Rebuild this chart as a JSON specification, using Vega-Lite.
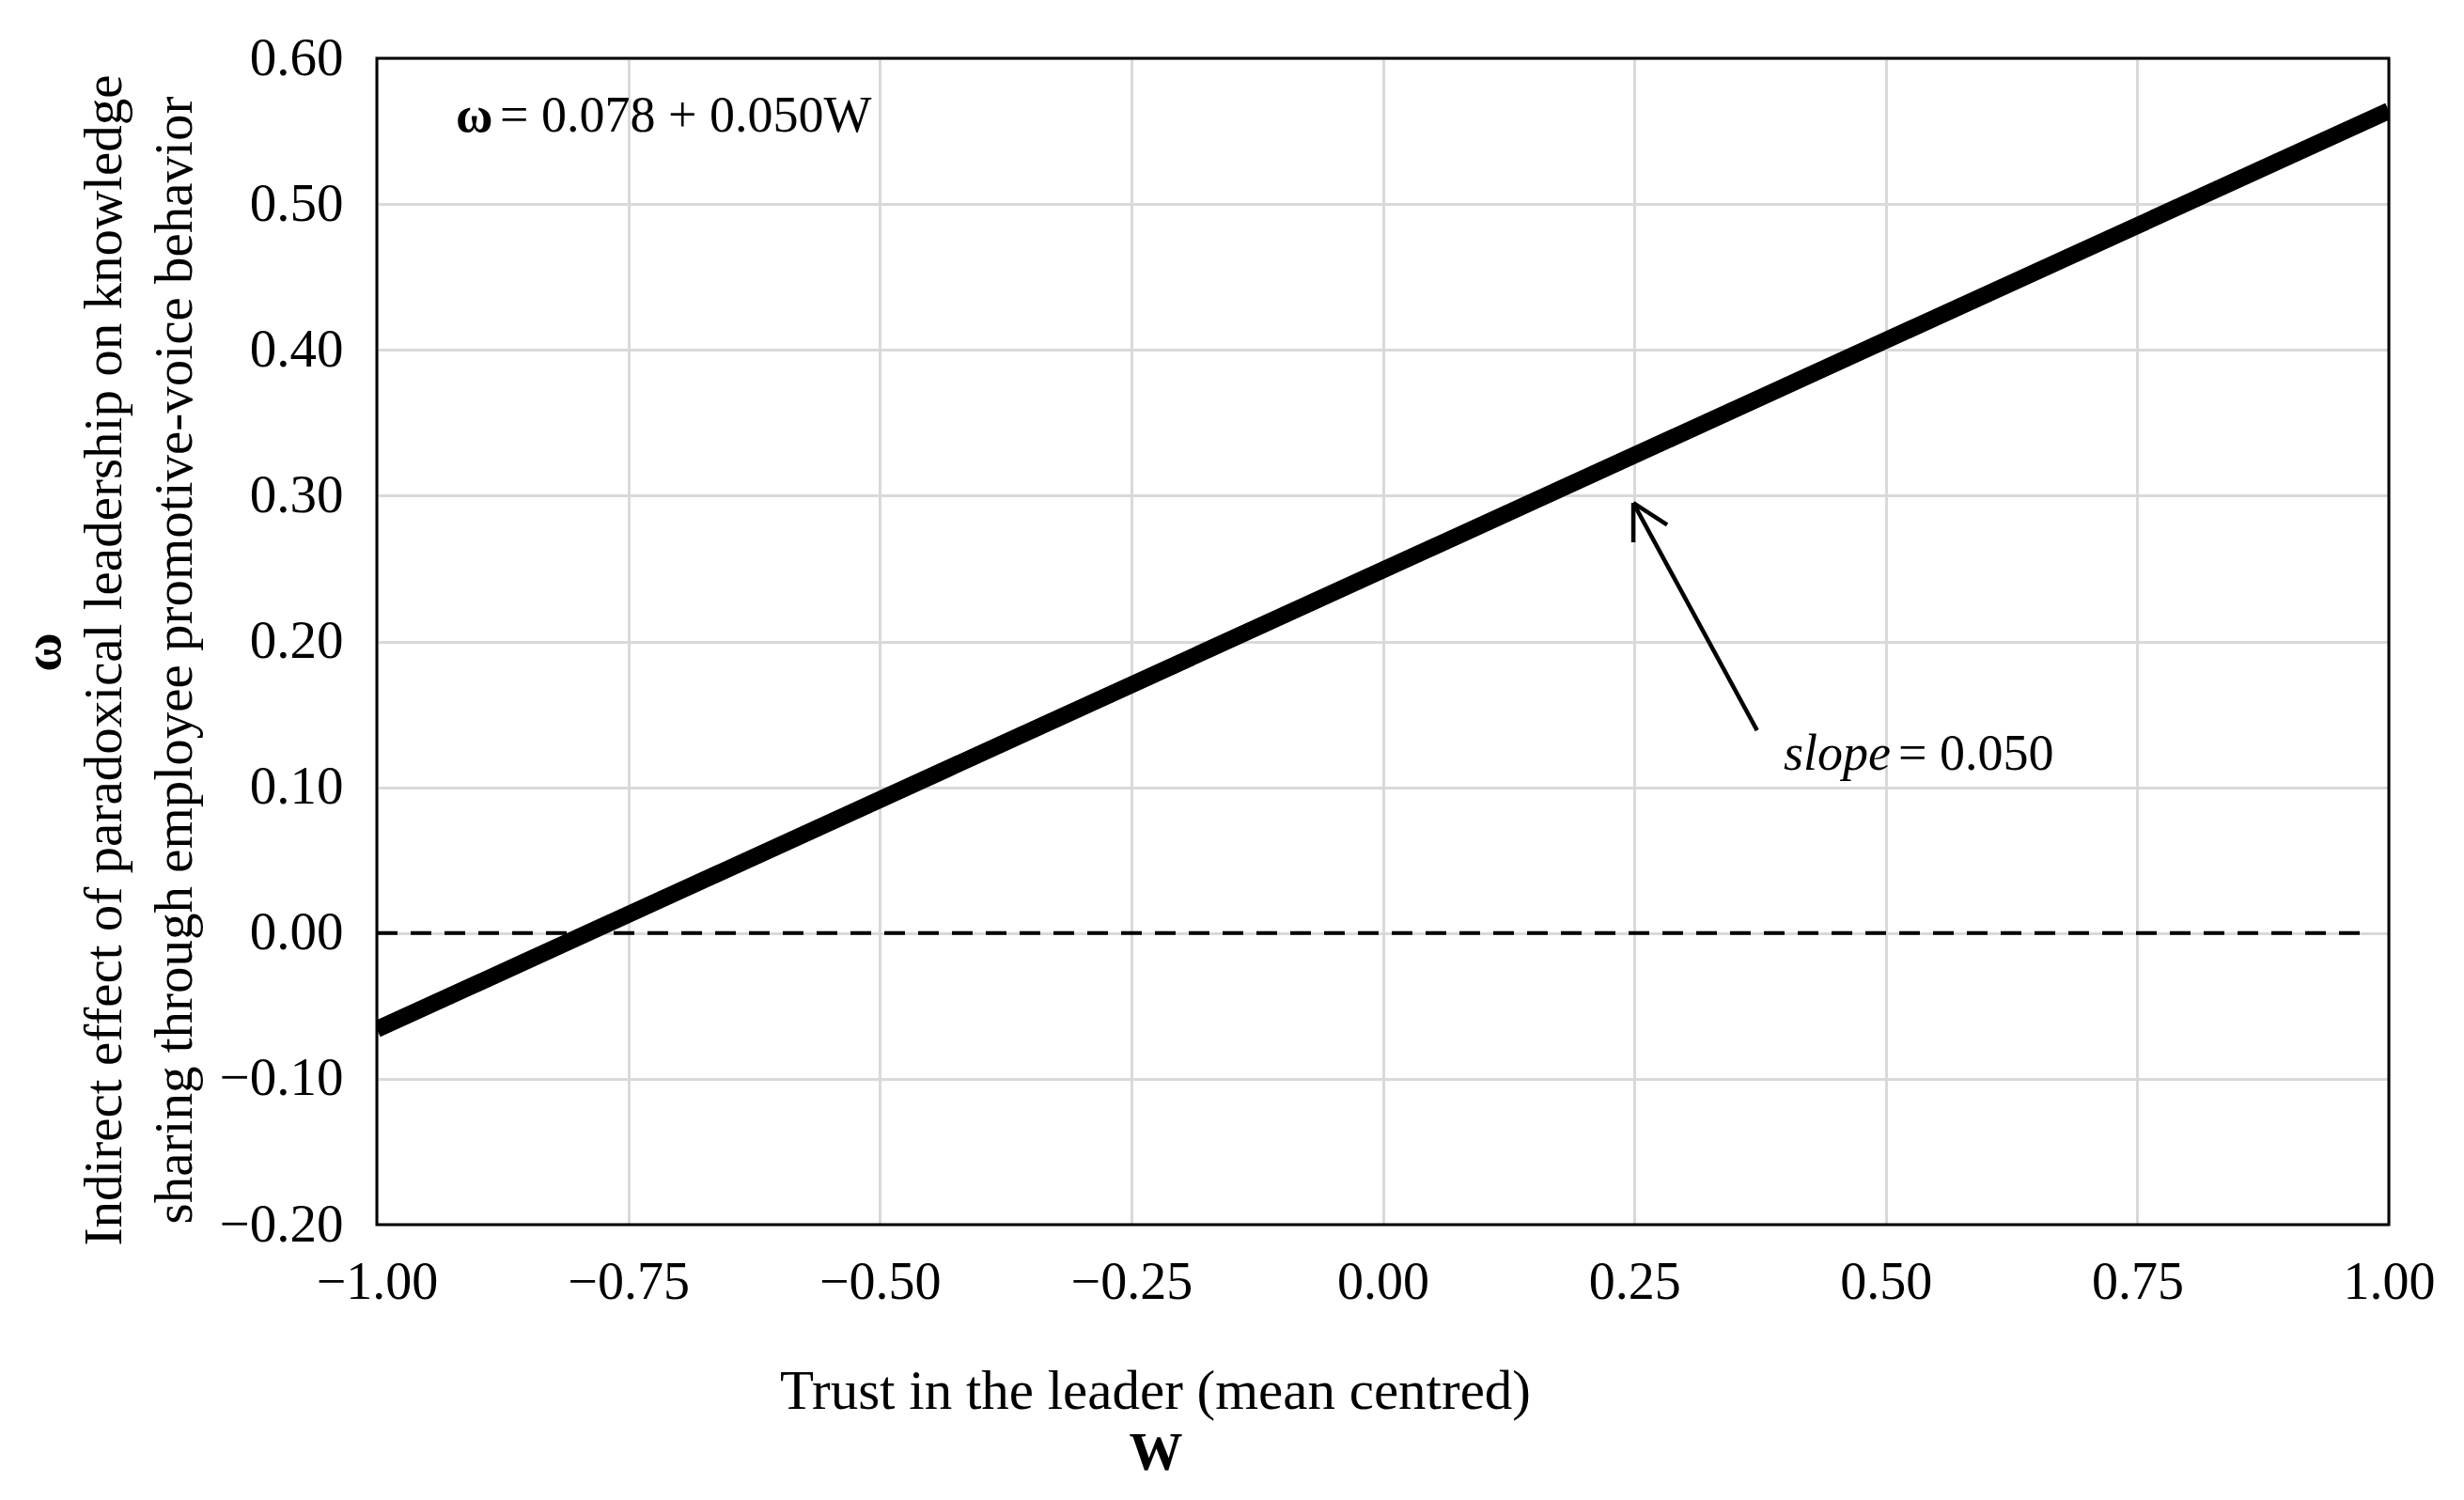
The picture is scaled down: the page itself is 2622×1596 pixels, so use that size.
{
  "$schema": "https://vega.github.io/schema/vega-lite/v6.json",
  "autosize": {"type": "none"},
  "width": 2141,
  "height": 1241,
  "padding": {"left": 401, "top": 62, "right": 80, "bottom": 293},
  "background": "white",
  "config": {
    "font": "Liberation Serif",
    "view": {"stroke": null},
    "axis": {
      "labelFont": "Liberation Serif",
      "titleFont": "Liberation Serif",
      "labelColor": "black",
      "titleColor": "black",
      "gridColor": "#d9d9d9",
      "gridWidth": 3,
      "domain": false,
      "ticks": false,
      "labelFlush": false,
      "labelOverlap": false
    }
  },
  "datasets": {
    "effect": [
      {"W": -1.0, "omega": -0.066},
      {"W": 1.0, "omega": 0.564}
    ],
    "zero": [
      {"W": -1.0, "omega": 0.0},
      {"W": 0.984, "omega": 0.0}
    ],
    "one": [{}]
  },
  "layer": [
    {
      "data": {"name": "zero"},
      "mark": {"type": "line", "color": "black", "strokeWidth": 4, "strokeDash": [22, 14]},
      "encoding": {
        "x": {
          "field": "W", "type": "quantitative",
          "scale": {"domain": [-1, 1], "nice": false, "zero": false},
          "axis": {
            "values": [-1, -0.75, -0.5, -0.25, 0, 0.25, 0.5, 0.75, 1],
            "format": ".2f",
            "labelFontSize": 56,
            "labelPadding": 34,
            "title": "Trust in the leader (mean centred)",
            "titleFontSize": 59,
            "titleFontWeight": "normal",
            "titleAnchor": null,
            "titleAlign": "center",
            "titleBaseline": "middle",
            "titleX": 828,
            "titleY": 177
          }
        },
        "y": {
          "field": "omega", "type": "quantitative",
          "scale": {"domain": [-0.2, 0.6], "nice": false, "zero": false},
          "axis": {
            "values": [-0.2, -0.1, 0, 0.1, 0.2, 0.3, 0.4, 0.5, 0.6],
            "format": ".2f",
            "labelFontSize": 57,
            "labelPadding": 36,
            "title": ["Indirect effect of paradoxical leadership on knowledge", "sharing through employee promotive-voice behavior"],
            "titleFontSize": 57,
            "titleFontWeight": "normal",
            "titleLineHeight": 75,
            "titleAngle": 270,
            "titleAlign": "center",
            "titleBaseline": "middle",
            "titleX": -290,
            "titleY": 640
          }
        }
      }
    },
    {
      "data": {"name": "effect"},
      "mark": {"type": "line", "color": "black", "strokeWidth": 18, "clip": true},
      "encoding": {
        "x": {"field": "W", "type": "quantitative"},
        "y": {"field": "omega", "type": "quantitative"}
      }
    },
    {
      "data": {"name": "one"},
      "mark": {"type": "rect", "filled": false, "stroke": "black", "strokeWidth": 3},
      "encoding": {
        "x": {"datum": -1, "type": "quantitative"},
        "x2": {"datum": 1},
        "y": {"datum": -0.2, "type": "quantitative"},
        "y2": {"datum": 0.6}
      }
    },
    {
      "data": {"name": "one"},
      "mark": {"type": "rule", "color": "black", "strokeWidth": 4.5},
      "encoding": {
        "x": {"datum": 0.372, "type": "quantitative"},
        "y": {"datum": 0.139, "type": "quantitative"},
        "x2": {"datum": 0.249},
        "y2": {"datum": 0.295}
      }
    },
    {
      "data": {"name": "one"},
      "mark": {"type": "rule", "color": "black", "strokeWidth": 4.5},
      "encoding": {
        "x": {"datum": 0.249, "type": "quantitative"},
        "y": {"datum": 0.295, "type": "quantitative"},
        "x2": {"datum": 0.249},
        "y2": {"datum": 0.268}
      }
    },
    {
      "data": {"name": "one"},
      "mark": {"type": "rule", "color": "black", "strokeWidth": 4.5},
      "encoding": {
        "x": {"datum": 0.249, "type": "quantitative"},
        "y": {"datum": 0.295, "type": "quantitative"},
        "x2": {"datum": 0.2826},
        "y2": {"datum": 0.280}
      }
    },
    {
      "data": {"name": "one"},
      "mark": {"type": "text", "text": "slope", "font": "Liberation Serif", "fontStyle": "italic", "fontSize": 54, "align": "left", "baseline": "alphabetic", "color": "black"},
      "encoding": {
        "x": {"datum": 0.3984, "type": "quantitative"},
        "y": {"datum": 0.112, "type": "quantitative"}
      }
    },
    {
      "data": {"name": "one"},
      "mark": {"type": "text", "text": "= 0.050", "font": "Liberation Serif", "fontSize": 54, "align": "left", "baseline": "alphabetic", "color": "black"},
      "encoding": {
        "x": {"datum": 0.5124, "type": "quantitative"},
        "y": {"datum": 0.112, "type": "quantitative"}
      }
    },
    {
      "data": {"name": "one"},
      "mark": {"type": "text", "text": "ω", "font": "Liberation Serif", "fontWeight": "bold", "fontSize": 54, "align": "left", "baseline": "alphabetic", "color": "black"},
      "encoding": {
        "x": {"datum": -0.9215, "type": "quantitative"},
        "y": {"datum": 0.5497, "type": "quantitative"}
      }
    },
    {
      "data": {"name": "one"},
      "mark": {"type": "text", "text": "= 0.078 + 0.050W", "font": "Liberation Serif", "fontSize": 54, "align": "left", "baseline": "alphabetic", "color": "black"},
      "encoding": {
        "x": {"datum": -0.8776, "type": "quantitative"},
        "y": {"datum": 0.5497, "type": "quantitative"}
      }
    },
    {
      "data": {"name": "one"},
      "mark": {"type": "text", "text": "ω", "font": "Liberation Serif", "fontWeight": "bold", "fontSize": 57, "angle": 270, "align": "center", "baseline": "middle", "color": "black"},
      "encoding": {
        "x": {"datum": -1.3307, "type": "quantitative"},
        "y": {"datum": 0.1926, "type": "quantitative"}
      }
    },
    {
      "data": {"name": "one"},
      "mark": {"type": "text", "text": "W", "font": "Liberation Serif", "fontWeight": "bold", "fontSize": 57, "align": "center", "baseline": "middle", "color": "black"},
      "encoding": {
        "x": {"datum": -0.2256, "type": "quantitative"},
        "y": {"datum": -0.3573, "type": "quantitative"}
      }
    }
  ]
}
